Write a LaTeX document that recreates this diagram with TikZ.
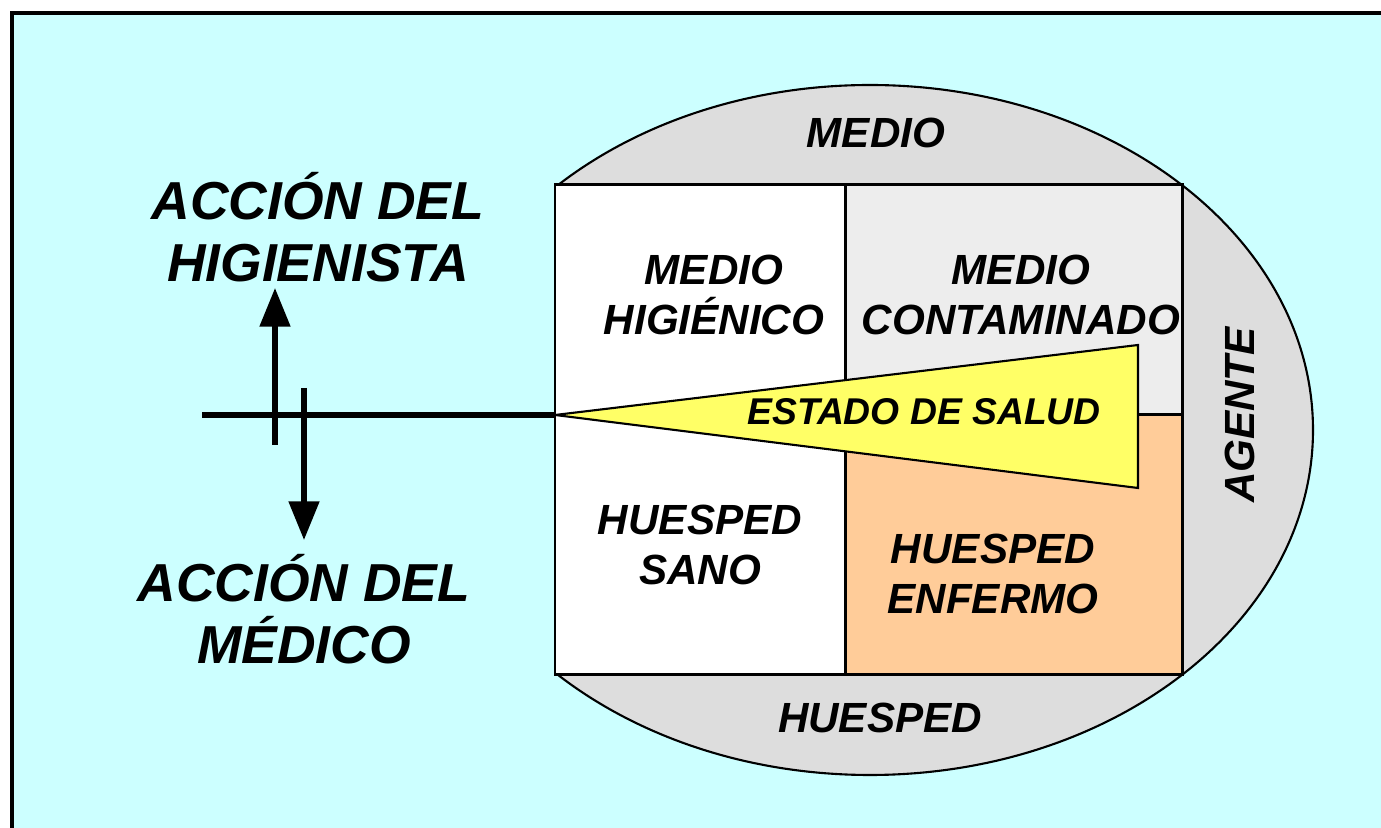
\documentclass[tikz,border=0pt]{standalone}
\usepackage{fontspec}
\setmainfont{Liberation Sans}
\usetikzlibrary{arrows.meta}
\definecolor{bgcyan}{HTML}{CCFFFF}
\definecolor{ringgray}{HTML}{DDDDDD}
\definecolor{contgray}{HTML}{EDEDED}
\definecolor{peach}{HTML}{FFCC99}
\definecolor{salud}{HTML}{FFFF66}
\tikzset{
  lbl/.style={font=\bfseries\itshape\fontsize{12}{14.2}\selectfont, align=center, inner sep=0pt},
  biglbl/.style={font=\bfseries\itshape\fontsize{15.2}{17.6}\selectfont, align=center, inner sep=0pt},
  saludlbl/.style={font=\bfseries\itshape\fontsize{10.6}{12}\selectfont, inner sep=0pt},
  cellline/.style={line width=0.85pt},
  axis/.style={line width=1.5pt},
  bigarrow/.style={line width=1.5pt, -{Triangle[width=8.5pt,length=11pt]}}
}
\begin{document}
\begin{tikzpicture}[x=0.01cm, y=-0.01cm]
\useasboundingbox (0,0) rectangle (1381,828);
% background and frame
\fill[bgcyan] (12,13) rectangle (1381,828);
\draw[line width=0.9pt] (12,828) -- (12,13) -- (1381,13);
% outer ellipse (clipped on the left)
\begin{scope}
  \clip (555,0) rectangle (1381,828);
  \draw[fill=ringgray, line width=0.6pt] (870,430) ellipse [x radius=443, y radius=345];
\end{scope}
% cells
\fill[white] (555,185) rectangle (845,675);
\fill[contgray] (845,185) rectangle (1182,415);
\fill[peach] (845,415) rectangle (1182,675);
\draw[cellline] (555,185) rectangle (1182,675);
\draw[cellline] (845,185) -- (845,675);
\draw[cellline] (845,415) -- (1182,415);
% triangle
\draw[fill=salud, line width=0.6pt] (555,415) -- (1138,345) -- (1138,488) -- cycle;
\coordinate (apex) at (555,415);
% labels
\node[lbl] (medio) at (876,133) {MEDIO};
\node[lbl] (huesped) at (880,718) {HUESPED};
\node[lbl, rotate=90] (agente) at (1240,415) {AGENTE};
\node[lbl] (higienico) at (714,295) {MEDIO\\HIGIÉNICO};
\node[lbl] (contaminado) at (1021,295) {MEDIO\\CONTAMINADO};
\node[lbl] (sano) at (700,545) {HUESPED\\SANO};
\node[lbl] (enfermo) at (993,574) {HUESPED\\ENFERMO};
\node[saludlbl] (salud) at (924,412) {ESTADO DE SALUD};
\node[biglbl] (higienista) at (318,227) {ACCIÓN DEL\\HIGIENISTA};
\node[biglbl] (medico) at (304,609) {ACCIÓN DEL\\MÉDICO};
% axis and arrows
\coordinate (axstart) at (202,415);
\coordinate (upbase) at (275,445);
\coordinate (uptip) at (275,288);
\coordinate (downbase) at (304,388);
\coordinate (downtip) at (304,540);
\draw[axis] (axstart) -- (apex);
\draw[bigarrow] (upbase) -- (uptip);
\draw[bigarrow] (downbase) -- (downtip);
\end{tikzpicture}
\end{document}
